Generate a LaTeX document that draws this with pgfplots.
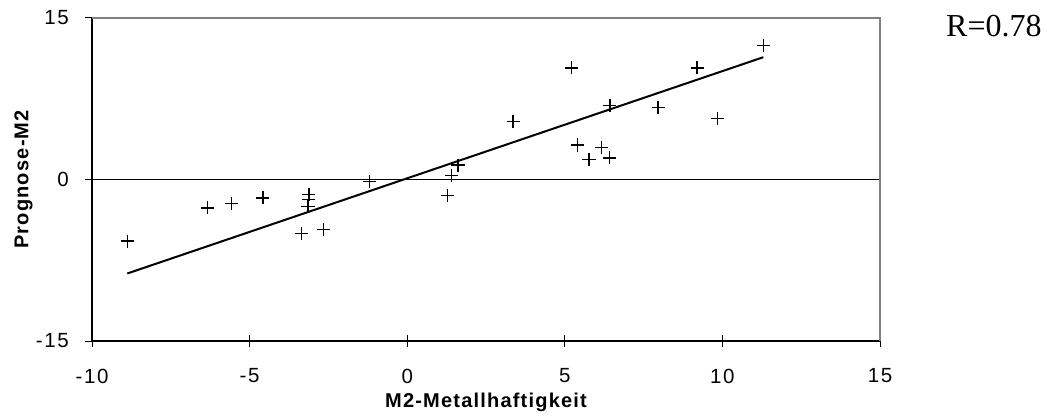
\documentclass[border=0pt]{standalone}
\usepackage{fontspec}
\usepackage{pgfplots}
\pgfplotsset{compat=1.18}
\setmainfont{Liberation Sans}
\newfontfamily\serifR{Liberation Serif}

\begin{document}
\begin{tikzpicture}
\path[use as bounding box] (0,0) rectangle (1052bp,417bp);
\begin{axis}[
  at={(92bp,76bp)}, anchor=south west,
  scale only axis, width=788bp, height=323bp,
  xmin=-10, xmax=15, ymin=-15, ymax=15,
  xtick={-10,-5,0,5,10,15}, ytick={-15,0,15},
  axis lines=left,
  axis line style={-, black, line width=1.1bp},
  tick style={black, line width=1bp},
  xtick align=center, ytick align=outside,
  major tick length=7bp,
  xtick style={/pgfplots/major tick length=12bp},
  /pgf/number format/assume math mode=true,
  tick label style={font=\fontsize{20.5bp}{24bp}\selectfont\addfontfeature{LetterSpace=8}, inner sep=0pt},
  xticklabel style={anchor=north, yshift=-24bp},
  yticklabel style={anchor=east, xshift=-16bp},
  xlabel={M2-Metallhaftigkeit},
  ylabel={Prognose-M2},
  every axis x label/.style={at={(rel axis cs:0.5,0)}, anchor=base, yshift=-66bp,
    font=\fontsize{20bp}{24bp}\bfseries\addfontfeature{LetterSpace=6}},
  every axis y label/.style={at={(rel axis cs:0,0.5)}, xshift=-63.7bp, rotate=90, anchor=base,
    font=\fontsize{20bp}{24bp}\bfseries\addfontfeature{LetterSpace=6}},
  clip=false,
]
% zero reference line
\draw[black, line width=0.9bp] (axis cs:-10,0) -- (axis cs:15,0);
% regression line
\addplot[black, line width=2bp] coordinates {(-8.88,-8.73) (11.30,11.36)};
% data points
\addplot[only marks, mark=+, mark size=6.6bp, mark options={line width=1.4bp}, black]
  coordinates {
  (-8.88,-5.73) (-6.34,-2.63) (-5.58,-2.23) (-4.58,-1.70)
  (-3.12,-1.39) (-3.13,-1.86) (-3.15,-2.50) (-3.36,-5.01)
  (-2.65,-4.64) (-1.19,-0.16) (1.28,-1.49) (1.40,0.37)
  (1.61,1.33) (3.36,5.41) (5.21,10.37) (5.40,3.20)
  (5.77,1.86) (6.17,2.97) (6.41,2.01) (6.43,6.87)
  (7.96,6.71) (9.20,10.37) (9.85,5.64) (11.30,12.47)
  };
% upper and right frame of the plot area
\draw[gray, line width=1.4bp] (rel axis cs:0,1) -- (rel axis cs:1,1) -- (rel axis cs:1,0);
\end{axis}
\node[anchor=base west, inner sep=0pt, font=\serifR\fontsize{32bp}{36bp}\selectfont]
  at (946bp,380.3bp) {R=0.78};
\end{tikzpicture}
\end{document}
